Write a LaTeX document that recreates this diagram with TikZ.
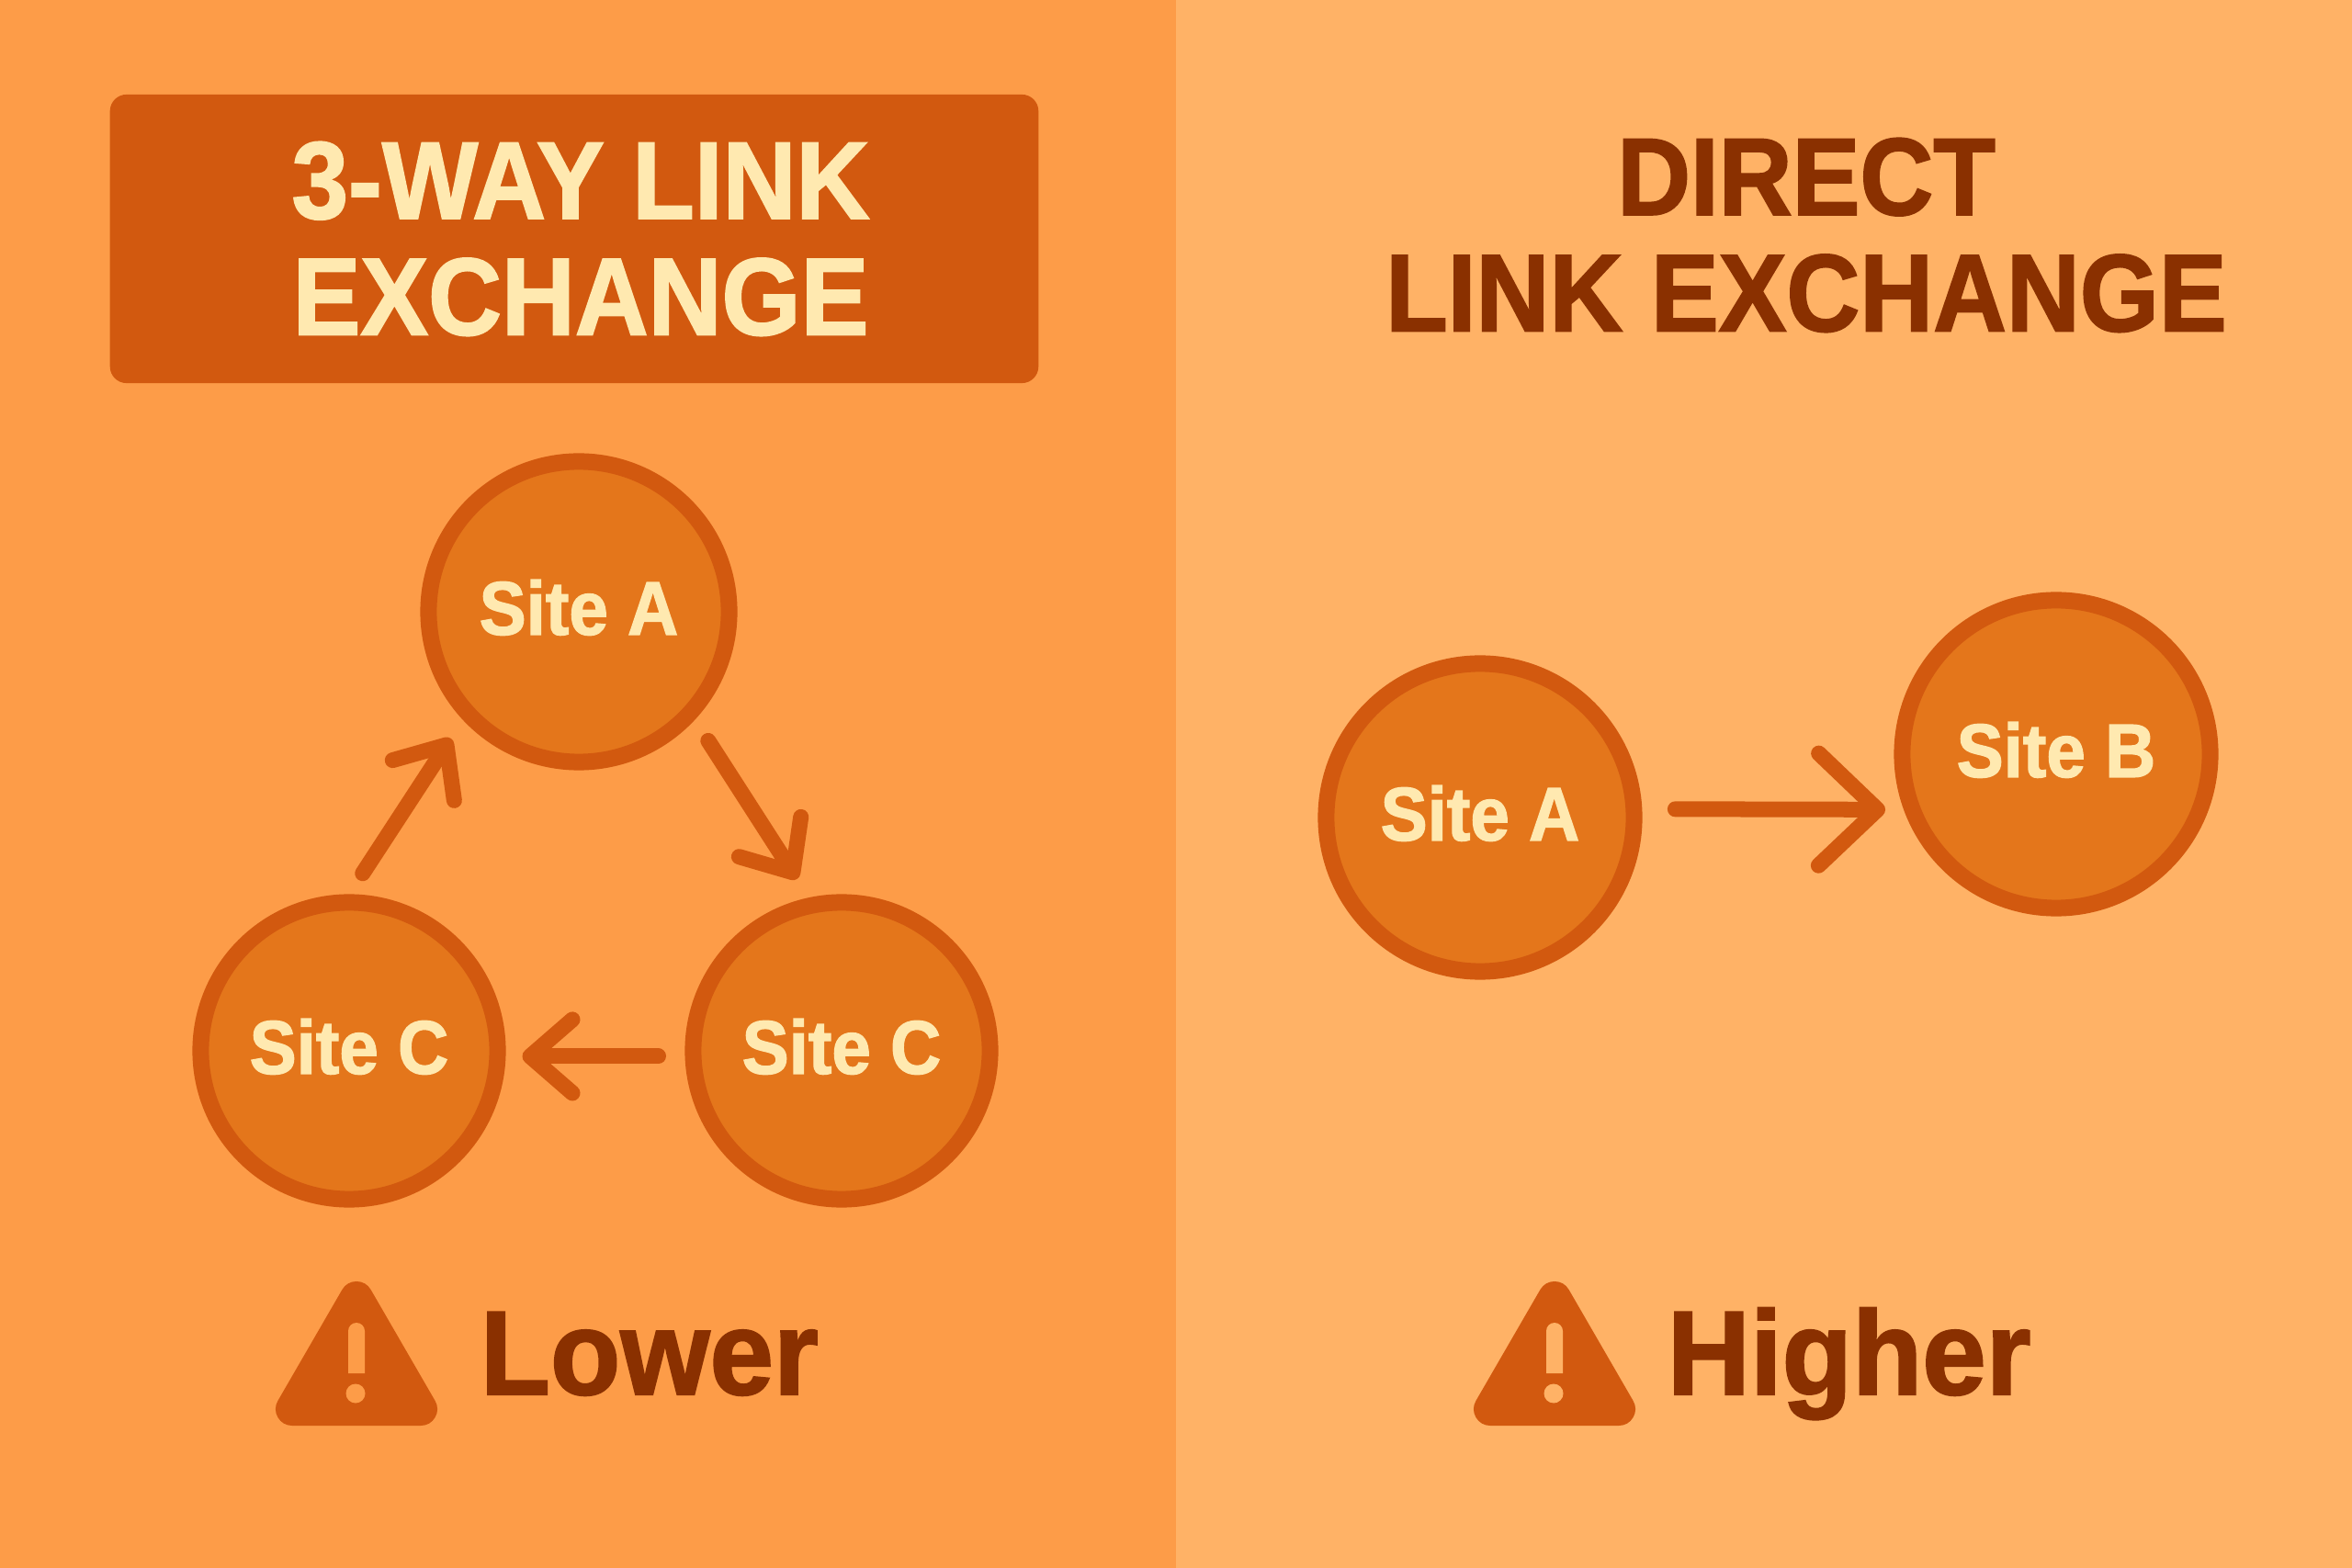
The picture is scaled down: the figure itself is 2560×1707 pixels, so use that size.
\documentclass[tikz,border=0pt]{standalone}
\usepackage{fontspec}
\usetikzlibrary{arrows.meta}
\setmainfont{Liberation Sans}
\newfontfamily\headfont[FakeStretch=.925,FakeBold=1.6]{Liberation Sans Bold}
\newfontfamily\ratefont[FakeStretch=.96,FakeBold=1.6]{Liberation Sans Bold}
\definecolor{panelL}{HTML}{FD9C48}
\definecolor{panelR}{HTML}{FFB266}
\definecolor{rust}{HTML}{D2590F}
\definecolor{siteFill}{HTML}{E4761B}
\definecolor{cream}{HTML}{FFE9B0}
\definecolor{brown}{HTML}{8A3000}
\begin{document}
\begin{tikzpicture}[x=0.01cm, y=-0.01cm, >={Straight Barb[round,length=0.46cm,width=0.8cm,line width=0.17cm]},
													site/.style={circle,draw=rust,line width=0.18cm,fill=siteFill,text=cream,minimum size=3.23cm,inner sep=0pt,text depth=0.1cm,font=\headfont\fontsize{23.5}{23.5}\selectfont},
													link/.style={->,draw=rust,line width=0.17cm,line cap=round,line join=round,shorten <=0.27cm,shorten >=0.24cm},
													head/.style={align=center,font=\headfont\fontsize{34}{36}\selectfont},
													rating/.style={anchor=base west,inner sep=0pt,text=brown,font=\ratefont\fontsize{37}{37}\selectfont},
													warn/.style={fill=rust,draw=rust,line width=0.36cm,line join=round}]

			  \fill[panelL] (0,0) rectangle (1280,1707);
			  \fill[panelR] (1280,0) rectangle (2560,1707);
			  \useasboundingbox (0,0) rectangle (2560,1707);

			  \node[fill=rust,rounded corners=0.18cm,minimum width=10.1cm,minimum height=3.14cm,text=cream,head] (title3) at (625,260) {\hspace*{.14cm}3-WAY LINK\\\hspace*{.14cm}EXCHANGE};
			  \node[text=brown,head] (titleD) at (1966,256) {DIRECT\\LINK EXCHANGE};

			  \node[site,minimum size=3.27cm] (A) at (630,666)   {Site A};
			  \node[site] (B) at (916,1144)  {Site C};
			  \node[site] (C) at (380,1144)  {Site C};
			  \node[site,minimum size=3.35cm] (D) at (1611,890) {Site A};
			  \node[site,minimum size=3.35cm] (E) at (2238,821) {Site B};

			  \draw[link] (A.-43) -- (B.102);
			  \draw[link,shorten <=0.29cm,shorten >=0.18cm] (B.182) -- (C.-2);
			  \draw[link] (C.90) -- (A.-137);
			  \draw[link,-{Straight Barb[round,length=0.64cm,width=1.22cm,line width=0.17cm]},shorten <=0.36cm,shorten >=0.2cm] (D.3) -- (E.-160.5);

			  % warning signs
			  \path[warn] (388,1413) -- (318,1534) -- (458,1534) -- cycle;
			  \path[warn] (1692,1413) -- (1622,1534) -- (1762,1534) -- cycle;
			  \fill[panelL] (379,1495) -- (379,1449) arc[start angle=180,end angle=360,radius=9] -- (397,1495) -- cycle (387,1517) circle (10.5);
			  \fill[panelR] (1683,1495) -- (1683,1449) arc[start angle=180,end angle=360,radius=9] -- (1701,1495) -- cycle (1691,1517) circle (10.5);

			  \node[rating] (low) at (522,1518) {Lower};
			  \node[rating] (high) at (1814,1518) {Higher};

			\end{tikzpicture}
\end{document}
